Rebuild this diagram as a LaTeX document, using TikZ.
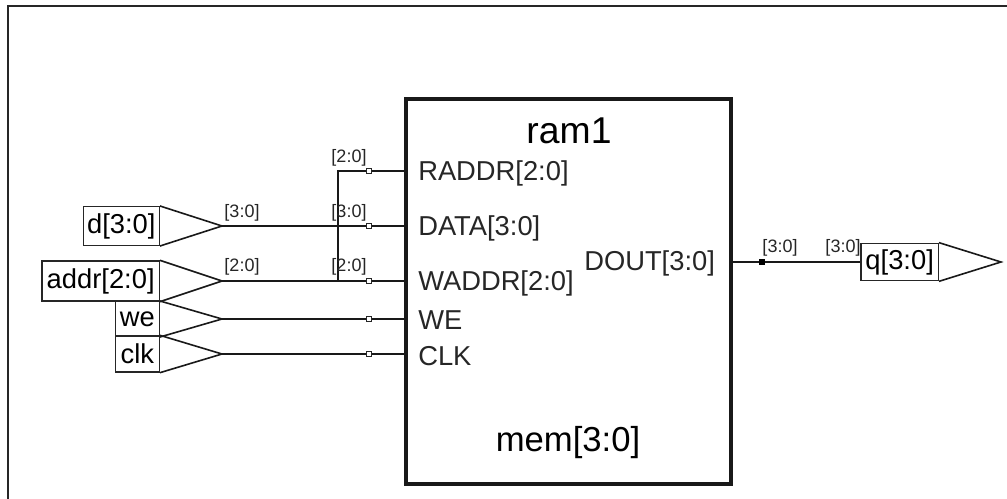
\documentclass[tikz,border=0pt]{standalone}
\usepackage{fontspec}
\setmainfont{Liberation Sans}
\usetikzlibrary{positioning,%
  calc%
}

\begin{document}
\begin{tikzpicture}
                    [x=0.75pt,y=-0.75pt,
                    frame/.style={draw=black!85, line width=2pt},
                    block/.style={rectangle, inner sep=0pt, anchor=north west,
                        minimum width=245pt, minimum height=290pt,
                        draw=black!90, line width=3pt},
                    pinbox/.style={rectangle, draw=black!85, line width=1pt,
                        inner sep=0pt, anchor=east, font=\fontsize{20.5}{22}\selectfont},
                    wire/.style={draw=black!90, line width=1.2pt},
                    pad/.style={rectangle, draw=black!85, line width=0.8pt, fill=white,
                        inner sep=0pt, minimum size=3.5pt},
                    dot/.style={rectangle, fill=black, inner sep=0pt, minimum size=4.5pt},
                    portlabel/.style={anchor=west, inner sep=0pt,
                        font=\fontsize{20.5}{22}\selectfont, text=black!85},
                    buslabel/.style={inner sep=0pt,
                        font=\fontsize{13.5}{15}\selectfont, text=black!85}]

                    \useasboundingbox (0,0) rectangle (1007,499);
                    \path[frame] (1007,6) -- (8,6) -- (8,499);

                    % memory block
                    \node[block, minimum width=244pt, minimum height=289pt] at (404,97) (ram) {};
                    \node[inner sep=0pt, font=\fontsize{28}{30}\selectfont] at (569,131) (title) {ram1};
                    \node[inner sep=0pt, font=\fontsize{26}{28}\selectfont] at (568,443) (mem) {mem[3:0]};
                    \node[portlabel] at (418,173) (raddr) {RADDR[2:0]};
                    \node[portlabel] at (418,228) (data) {DATA[3:0]};
                    \node[portlabel] at (418,283) (waddr) {WADDR[2:0]};
                    \node[portlabel] at (418,320) (wen) {WE};
                    \node[portlabel] at (418,356) (clock) {CLK};
                    \node[portlabel] at (584,263) (dout) {DOUT[3:0]};

                    % input pins
                    \node[pinbox, minimum width=57pt, minimum height=29pt] at (160,226) (d) {d[3:0]};
                    \node[pinbox, minimum width=88pt, minimum height=30pt] at (160,281) (addr) {addr[2:0]};
                    \node[pinbox, minimum width=33pt, minimum height=26pt] at (160,319) (we) {we};
                    \node[pinbox, minimum width=33pt, minimum height=27pt] at (160,354) (clk) {clk};
                    \coordinate (dtip) at (222,226);
                    \coordinate (addrtip) at (222,281);
                    \coordinate (wetip) at (222,319);
                    \coordinate (clktip) at (222,354);
                    \foreach \pin in {d,addr,we,clk}
                        \draw[wire] (\pin.north east) -- (\pin tip) -- (\pin.south east);

                    % output pin
                    \node[pinbox, minimum width=58pt, minimum height=28pt] at (939,262) (q) {q[3:0]};
                    \coordinate (qtip) at (1001,262);
                    \draw[wire] (q.north east) -- (qtip) -- (q.south east);

                    % pads on the block
                    \node[pad] at (369,171) (padr) {};
                    \node[pad] at (369,226) (padd) {};
                    \node[pad] at (369,281) (padw) {};
                    \node[pad] at (369,319) (pade) {};
                    \node[pad] at (369,354) (padc) {};
                    \coordinate (inr) at (404,171);
                    \coordinate (ind) at (404,226);
                    \coordinate (inw) at (404,281);
                    \coordinate (ine) at (404,319);
                    \coordinate (inc) at (404,354);
                    \coordinate (jtop) at (338,171);
                    \coordinate (jbot) at (338,281);
                    \coordinate (outp) at (731,262);
                    \node[dot] at (762,262) (outdot) {};

                    % wires
                    \draw[wire] (jbot) -- (jtop) -- (padr) -- (inr);
                    \draw[wire] (dtip) -- (padd) -- (ind);
                    \draw[wire] (addrtip) -- (padw) -- (inw);
                    \draw[wire] (wetip) -- (pade) -- (ine);
                    \draw[wire] (clktip) -- (padc) -- (inc);
                    \draw[wire] (outp) -- (outdot) -- (q.west);

                    % bus widths
                    \node[buslabel] at (242,213) (busd) {[3:0]};
                    \node[buslabel] at (242,267) (busa) {[2:0]};
                    \node[buslabel] at (349,158) (busr) {[2:0]};
                    \node[buslabel] at (349,213) (busi) {[3:0]};
                    \node[buslabel] at (349,267) (busw) {[2:0]};
                    \node[buslabel] at (780,248) (buso) {[3:0]};
                    \node[buslabel] at (843,248) (busq) {[3:0]};
                \end{tikzpicture}
\end{document}
